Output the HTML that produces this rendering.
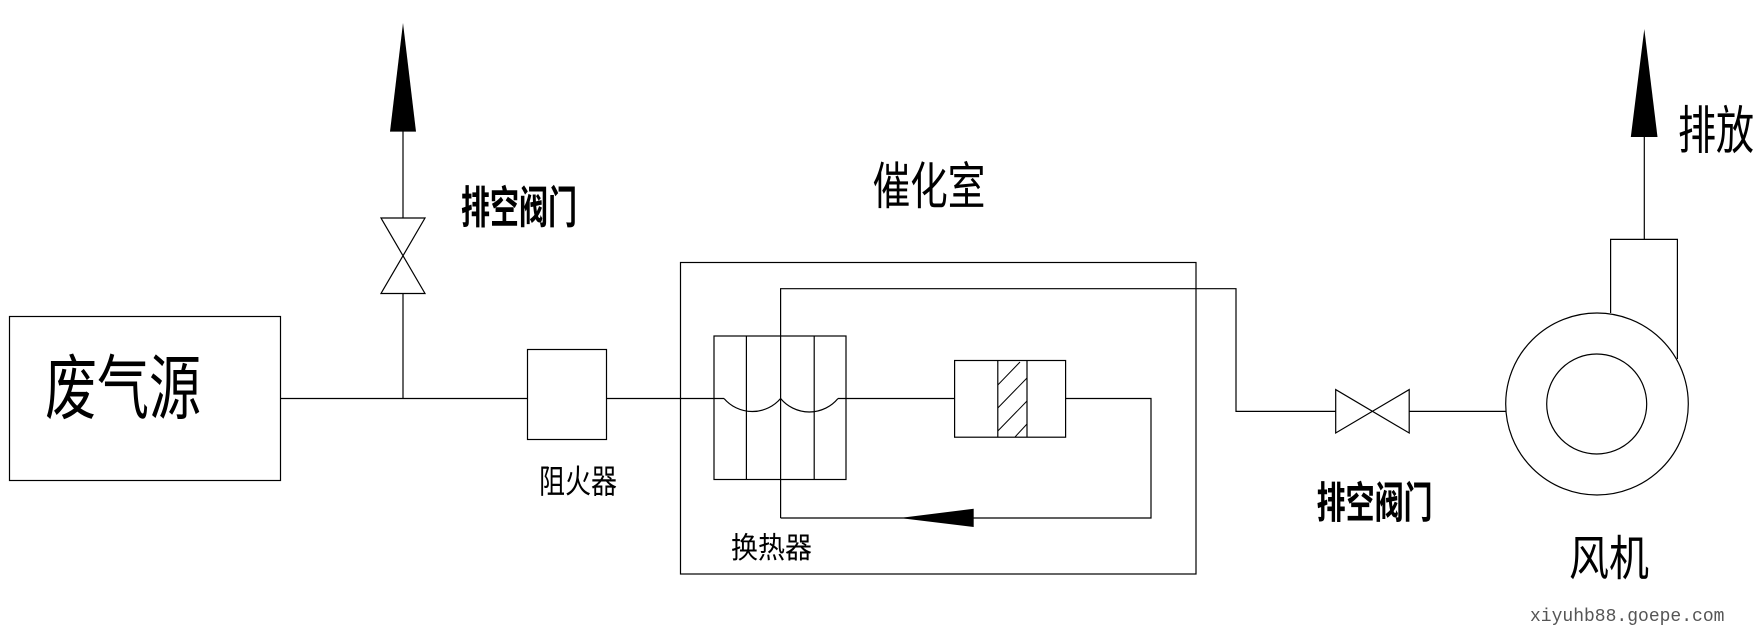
<!DOCTYPE html>
<html><head><meta charset="utf-8"><style>
html,body{margin:0;padding:0;background:#fff;}
svg{display:block;}
text{font-family:"Liberation Sans","Noto Sans CJK SC",sans-serif;fill:#000;}
</style></head><body>
<svg width="1758" height="633" viewBox="0 0 1758 633" xmlns="http://www.w3.org/2000/svg">
<g fill="none" stroke="#000" stroke-width="1.2">
<rect x="9.5" y="316.5" width="271" height="164"/>
<line x1="280.5" y1="398.5" x2="527.5" y2="398.5"/>
<line x1="403" y1="398.5" x2="403" y2="293.5"/>
<polygon points="381,218 425,218 381,293.5 425,293.5"/>
<line x1="403" y1="218" x2="403" y2="131"/>
<rect x="527.5" y="349.5" width="79" height="90"/>
<line x1="606.5" y1="398.5" x2="724" y2="398.5"/>
<rect x="680.5" y="262.5" width="515.5" height="311.5"/>
<rect x="714" y="336" width="132" height="143.5"/>
<line x1="746.4" y1="336" x2="746.4" y2="479.5"/>
<line x1="814.2" y1="336" x2="814.2" y2="479.5"/>
<path d="M724,398.5 A37.3,37.3 0 0 0 780.6,398.5 A37.3,37.3 0 0 0 838,398.5"/>
<line x1="838" y1="398.5" x2="954.6" y2="398.5"/>
<polyline points="780.6,518 780.6,288.7 1236,288.7 1236,411.4 1335.7,411.4"/>
<polyline points="1065.7,398.5 1151,398.5 1151,518 780.6,518"/>
<rect x="954.6" y="360.5" width="111" height="76.7"/>
<line x1="997.8" y1="360.5" x2="997.8" y2="437.2"/>
<line x1="1027" y1="360.5" x2="1027" y2="437.2"/>
<line x1="997.8" y1="385" x2="1020" y2="362" stroke-width="1"/>
<line x1="997.8" y1="408" x2="1027" y2="378" stroke-width="1"/>
<line x1="997.8" y1="431" x2="1027" y2="401" stroke-width="1"/>
<line x1="1015" y1="437" x2="1027" y2="424" stroke-width="1"/>
<polygon points="1335.7,389.6 1335.7,433 1409.2,389.6 1409.2,433"/>
<line x1="1409.2" y1="411.4" x2="1505.7" y2="411.4"/>
<ellipse cx="1597" cy="404" rx="91.3" ry="91"/>
<circle cx="1596.7" cy="404" r="50"/>
<polyline points="1610.6,313 1610.6,239.4 1677.4,239.4 1677.4,359"/>
<line x1="1644.3" y1="239.4" x2="1644.3" y2="137"/>
</g>
<g fill="#000" stroke="none">
<polygon points="403,23 390,131.6 416,131.6"/>
<polygon points="1644.3,29 1630.8,137 1657.5,137"/>
<polygon points="899.6,518 973.7,508.7 973.7,527"/>
</g>
<text transform="translate(45,413) scale(1,1.36)" font-size="52">废气源</text>
<text transform="translate(461,223) scale(1,1.52)" font-size="29" font-weight="bold">排空阀门</text>
<text transform="translate(539,493) scale(1,1.27)" font-size="26">阻火器</text>
<text transform="translate(872.6,204) scale(1,1.34)" font-size="37.6">催化室</text>
<text transform="translate(731,558) scale(1,1.1)" font-size="27">换热器</text>
<text transform="translate(1316.6,518) scale(1,1.48)" font-size="29" font-weight="bold">排空阀门</text>
<text transform="translate(1678,149) scale(1,1.37)" font-size="38">排放</text>
<text transform="translate(1569,575) scale(1,1.2)" font-size="40">风机</text>
<text x="1530" y="621" font-size="18" style="font-family:'Liberation Mono',monospace;fill:#555">xiyuhb88.goepe.com</text>
</svg>
</body></html>
